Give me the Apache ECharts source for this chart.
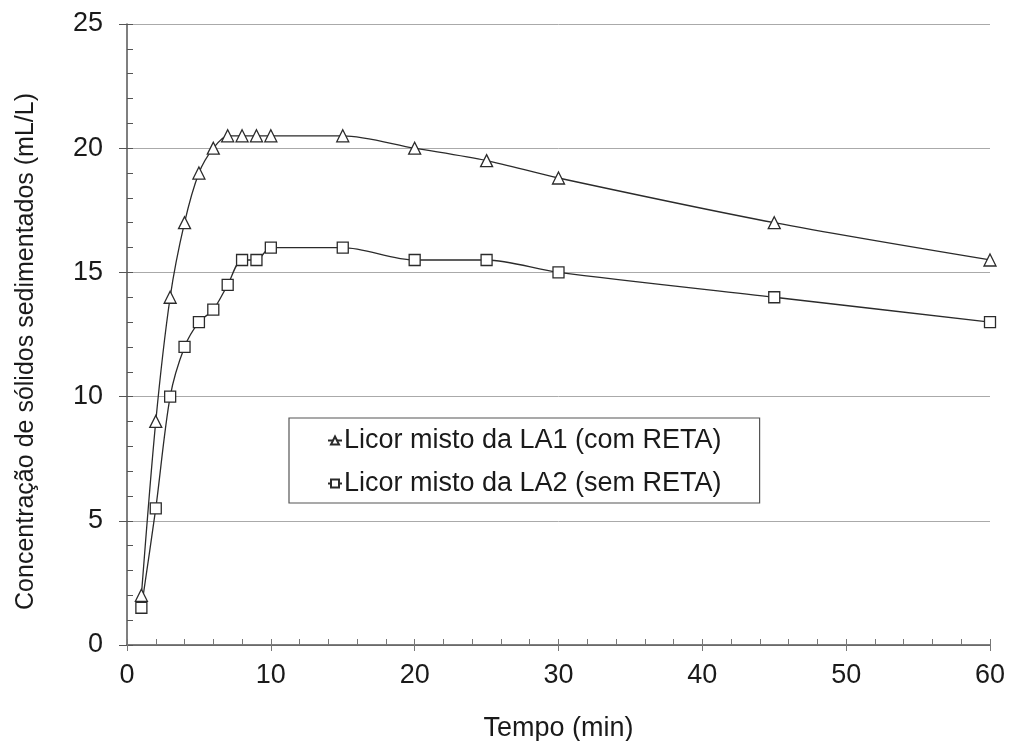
<!DOCTYPE html>
<html>
<head>
<meta charset="utf-8">
<script src="https://cdn.jsdelivr.net/npm/echarts@6/dist/echarts.min.js"></script>
<style>
  html, body { margin: 0; padding: 0; background: #fff; }
  #chart { width: 1010px; height: 741px; }
</style>
</head>
<body>
<div id="chart"></div>
<script>
// tempo (min)
const tempo = [1, 2, 3, 4, 5, 6, 7, 8, 9, 10, 15, 20, 25, 30, 45, 60];
// LA1 (com RETA) - triangulos
const la1 = [2, 9, 14, 17, 19, 20, 20.5, 20.5, 20.5, 20.5, 20.5, 20, 19.5, 18.8, 17, 15.5];
// LA2 (sem RETA) - quadrados
const la2 = [1.5, 5.5, 10, 12, 13, 13.5, 14.5, 15.5, 15.5, 16, 16, 15.5, 15.5, 15, 14, 13];
const nomes = ['Licor misto da LA1 (com RETA)', 'Licor misto da LA2 (sem RETA)'];

const fonte = 'Liberation Sans, Arial, sans-serif';
const cor = '#2b2b2b';
const corTexto = '#1a1a1a';

function pares (xs, ys) {
    return xs.map((x, i) => [x, ys[i]]);
}

let myChart = echarts.init(document.getElementById('chart'));
myChart.setOption({
    animation: false,
    backgroundColor: '#fff',
    textStyle: { fontFamily: fonte, color: cor },
    grid: { left: 127, right: 20, top: 24, bottom: 96, containLabel: false, outerBoundsMode: 'none' },
    legend: {
        orient: 'vertical',
        left: 289,
        top: 418,
        padding: [9, 38, 6, 38],
        itemGap: 16,
        itemWidth: 14,
        itemHeight: 10,
        borderColor: '#555',
        borderWidth: 1.2,
        data: nomes,
        textStyle: { fontSize: 27, color: corTexto, fontFamily: fonte, padding: [0, 0, 0, -3] }
    },
    xAxis: [
        {
            type: 'value',
            min: 0,
            max: 60,
            interval: 10,
            name: 'Tempo (min)',
            nameLocation: 'middle',
            nameGap: 70,
            nameTextStyle: { fontSize: 27, color: corTexto },
            axisLine: { lineStyle: { color: '#555', width: 1.5 } },
            axisTick: { show: true, length: 6, lineStyle: { color: '#777' } },
            axisLabel: { fontSize: 27, color: corTexto, margin: 17 },
            splitLine: { show: false }
        },
        {
            type: 'value',
            min: 0,
            max: 60,
            interval: 2,
            position: 'bottom',
            axisLine: { show: false },
            axisTick: { show: true, inside: true, length: 6, lineStyle: { color: '#777' } },
            axisLabel: { show: false },
            splitLine: { show: false }
        }
    ],
    yAxis: [
        {
            type: 'value',
            min: 0,
            max: 25,
            interval: 5,
            name: 'Concentração de sólidos sedimentados (mL/L)',
            nameLocation: 'middle',
            nameGap: 88,
            nameTextStyle: { fontSize: 25, color: corTexto, padding: [0, 34, 0, 0] },
            axisLine: { show: true, lineStyle: { color: '#555', width: 1.5 } },
            axisTick: { show: true, length: 8, lineStyle: { color: '#555' } },
            axisLabel: { fontSize: 27, color: corTexto, margin: 24 },
            splitLine: { show: true, lineStyle: { color: '#aaa', width: 1 } }
        },
        {
            type: 'value',
            min: 0,
            max: 25,
            interval: 1,
            position: 'left',
            axisLine: { show: false },
            axisTick: { show: true, inside: true, length: 6, lineStyle: { color: '#555' } },
            axisLabel: { show: false },
            splitLine: { show: false }
        }
    ],
    series: [
        {
            name: nomes[0],
            type: 'line',
            smooth: 0.3,
            data: pares(tempo, la1),
            symbol: 'triangle',
            symbolSize: 12,
            lineStyle: { color: cor, width: 1.3 },
            itemStyle: { color: '#fff', borderColor: cor, borderWidth: 1.3 }
        },
        {
            name: nomes[1],
            type: 'line',
            smooth: 0.3,
            data: pares(tempo, la2),
            symbol: 'rect',
            symbolSize: 11,
            lineStyle: { color: cor, width: 1.3 },
            itemStyle: { color: '#fff', borderColor: cor, borderWidth: 1.3 }
        }
    ]
});
</script>
</body>
</html>
